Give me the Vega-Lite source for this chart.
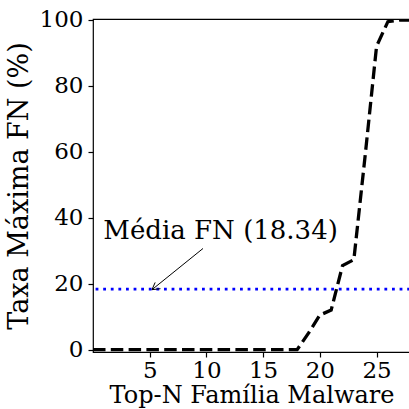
{
  "$schema": "https://vega.github.io/schema/vega-lite/v6.json",
  "autosize": {"type": "none"},
  "padding": {"left": 93, "top": 19, "right": 0, "bottom": 57},
  "width": 317,
  "height": 333,
  "background": "white",
  "config": {
    "view": {"stroke": "black", "strokeWidth": 1.2},
    "font": "DejaVu Serif",
    "axis": {
      "grid": false,
      "domain": false,
      "tickColor": "black",
      "tickSize": 5,
      "tickWidth": 1.2,
      "labelColor": "black",
      "labelFont": "DejaVu Serif",
      "labelFontSize": 23,
      "titleColor": "black",
      "titleFont": "DejaVu Serif",
      "titleFontSize": 25,
      "titleFontWeight": "normal"
    }
  },
  "datasets": {
    "fn": [
      {"n": 0, "fn": 0}, {"n": 1, "fn": 0}, {"n": 2, "fn": 0}, {"n": 3, "fn": 0},
      {"n": 4, "fn": 0}, {"n": 5, "fn": 0}, {"n": 6, "fn": 0}, {"n": 7, "fn": 0},
      {"n": 8, "fn": 0}, {"n": 9, "fn": 0}, {"n": 10, "fn": 0}, {"n": 11, "fn": 0},
      {"n": 12, "fn": 0}, {"n": 13, "fn": 0}, {"n": 14, "fn": 0}, {"n": 15, "fn": 0},
      {"n": 16, "fn": 0}, {"n": 17, "fn": 0}, {"n": 18, "fn": 0}, {"n": 19, "fn": 5},
      {"n": 20, "fn": 10.5}, {"n": 21, "fn": 12}, {"n": 22, "fn": 25.5}, {"n": 23, "fn": 27.3},
      {"n": 24, "fn": 59}, {"n": 25, "fn": 92}, {"n": 26, "fn": 99.5}, {"n": 27, "fn": 100},
      {"n": 28, "fn": 100}
    ],
    "mean": [{"mean": 18.34}],
    "label": [{"x": 11.25, "y": 33.5, "text": "Média FN (18.34)"}],
    "arrow": [
      {"x": 9.7, "y": 30.7, "x2": 5.2, "y2": 18.2},
      {"x": 5.2, "y": 18.2, "x2": 5.95, "y2": 18.5},
      {"x": 5.2, "y": 18.2, "x2": 5.48, "y2": 20.4}
    ]
  },
  "layer": [
    {
      "data": {"name": "mean"},
      "mark": {"type": "rule", "color": "#0000ff", "strokeWidth": 2.8, "strokeDash": [2.8, 4.8]},
      "encoding": {"y": {"field": "mean", "type": "quantitative", "scale": {"domain": [-0.7, 100.3]}}}
    },
    {
      "data": {"name": "fn"},
      "mark": {"type": "line", "color": "black", "strokeWidth": 3.3, "strokeDash": [12.5, 5.3], "clip": true},
      "encoding": {
        "x": {"field": "n", "type": "quantitative", "scale": {"domain": [0, 27.95], "nice": false, "zero": false},
              "axis": {"values": [5, 10, 15, 20, 25], "title": "Top-N Família Malware", "titleFontSize": 24, "titlePadding": 1, "labelPadding": 2}},
        "y": {"field": "fn", "type": "quantitative", "scale": {"domain": [-0.7, 100.3], "nice": false},
              "axis": {"values": [0, 20, 40, 60, 80, 100], "title": "Taxa Máxima FN (%)", "titleFontSize": 27, "titlePadding": 6, "labelPadding": 5}}
      }
    },
    {
      "data": {"name": "arrow"},
      "mark": {"type": "rule", "color": "black", "strokeWidth": 1},
      "encoding": {
        "x": {"field": "x", "type": "quantitative"},
        "y": {"field": "y", "type": "quantitative"},
        "x2": {"field": "x2"},
        "y2": {"field": "y2"}
      }
    },
    {
      "data": {"name": "label"},
      "mark": {"type": "text", "font": "DejaVu Serif", "fontSize": 26, "align": "center", "baseline": "alphabetic", "color": "black"},
      "encoding": {
        "x": {"field": "x", "type": "quantitative"},
        "y": {"field": "y", "type": "quantitative"},
        "text": {"field": "text"}
      }
    }
  ]
}
